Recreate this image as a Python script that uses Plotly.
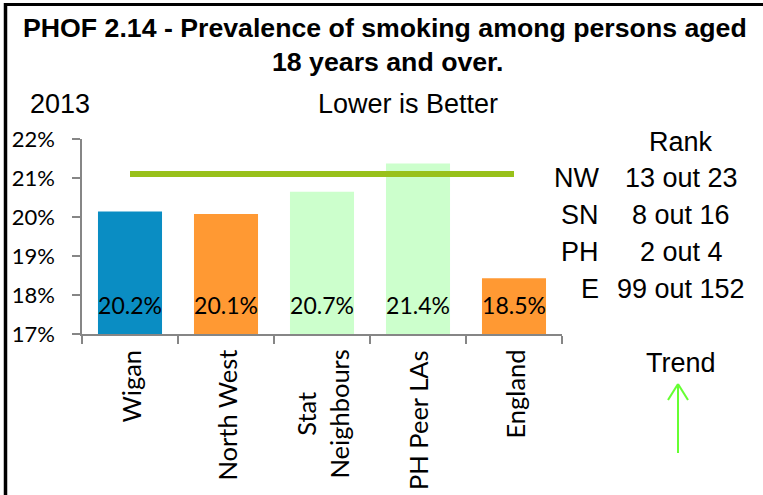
import plotly.graph_objects as go

W, H = 763, 495

categories = ["Wigan", "North West", "Stat Neighbours", "PH Peer LAs", "England"]
axis_labels = ["Wigan", "North West", "Stat<br>Neighbours", "PH Peer LAs", "England"]
values = [20.14, 20.08, 20.65, 21.37, 18.43]
value_labels = ["20.2%", "20.1%", "20.7%", "21.4%", "18.5%"]
bar_colors = ["#0A8DC3", "#FF9933", "#CCFFCC", "#CCFFCC", "#FF9933"]
benchmark = [21.1, 21.1, 21.1, 21.1, 21.1]
label_level = [17.65] * 5
y_ticks = [17, 18, 19, 20, 21, 22]
y_tick_text = ["17%", "18%", "19%", "20%", "21%", "22%"]

rank_groups = ["NW", "SN", "PH", "E"]
rank_values = ["13 out 23", "8 out 16", "2 out 4", "99 out 152"]

title_line1 = "PHOF 2.14 - Prevalence of smoking among persons aged"
title_line2 = "18 years and over."
year_text = "2013"
direction_text = "Lower is Better"


def px_x(x):
    return x / W


def px_y(y):
    return 1 - y / H


CAL = "Lato, Carlito, Calibri, sans-serif"
ARIAL = "Liberation Sans, Arial, sans-serif"
SIDE = 27

fig = go.Figure()
fig.add_trace(go.Bar(
    x=categories, y=values, marker=dict(color=bar_colors, line=dict(width=0)),
    width=0.667, hoverinfo="skip", showlegend=False,
))
fig.add_trace(go.Scatter(
    x=categories, y=benchmark, mode="lines",
    line=dict(color="#99C11A", width=6), showlegend=False, hoverinfo="skip",
))
fig.add_trace(go.Scatter(
    x=categories, y=label_level, mode="text", text=value_labels,
    textposition="middle center",
    textfont=dict(family=CAL, size=23, color="#000000"),
    showlegend=False, hoverinfo="skip",
))

fig.update_layout(
    width=W, height=H,
    margin=dict(l=0, r=0, t=0, b=0, autoexpand=False),
    paper_bgcolor="white", plot_bgcolor="white",
    bargap=0.333,
    xaxis=dict(
        domain=[px_x(82), px_x(562)],
        type="category", categoryorder="array", categoryarray=categories,
        showticklabels=False, showline=True, linecolor="#868686", linewidth=1.5,
        ticks="outside", ticklen=8, tickcolor="#868686", tickwidth=1.5,
        tickson="boundaries", showgrid=False, zeroline=False,
        range=[-0.5, 4.5], automargin=False,
    ),
    yaxis=dict(
        domain=[px_y(334), px_y(139)],
        range=[17, 22], tickvals=y_ticks, ticktext=y_tick_text,
        showline=True, linecolor="#868686", linewidth=1.5,
        ticks="outside", ticklen=8, tickcolor="#868686", tickwidth=1.5,
        showgrid=False, zeroline=False, automargin=False,
        tickfont=dict(family=CAL, size=22, color="#000000"),
        ticklabelstandoff=13,
    ),
)

ann = []
for cat, lab in zip(categories, axis_labels):
    ann.append(dict(
        x=cat, xref="x", y=px_y(348), yref="paper", text=lab, showarrow=False,
        textangle=-90, xanchor="center", yanchor="top", align="center",
        font=dict(family=CAL, size=25.5, color="#000000"),
    ))

ann.append(dict(x=px_x(385), y=px_y(28), xref="paper", yref="paper", text="<b>" + title_line1 + "</b>",
                showarrow=False, xanchor="center", yanchor="middle",
                font=dict(family=ARIAL, size=26.7, color="#000000")))
ann.append(dict(x=px_x(387), y=px_y(62), xref="paper", yref="paper", text="<b>" + title_line2 + "</b>",
                showarrow=False, xanchor="center", yanchor="middle",
                font=dict(family=ARIAL, size=26.7, color="#000000")))
ann.append(dict(x=px_x(60), y=px_y(104), xref="paper", yref="paper", text=year_text,
                showarrow=False, xanchor="center", yanchor="middle",
                font=dict(family=ARIAL, size=SIDE, color="#000000")))
ann.append(dict(x=px_x(408), y=px_y(104), xref="paper", yref="paper", text=direction_text,
                showarrow=False, xanchor="center", yanchor="middle",
                font=dict(family=ARIAL, size=SIDE, color="#000000")))
ann.append(dict(x=px_x(681), y=px_y(142), xref="paper", yref="paper", text="Rank",
                showarrow=False, xanchor="center", yanchor="middle",
                font=dict(family=ARIAL, size=SIDE, color="#000000")))
for i, (g, v) in enumerate(zip(rank_groups, rank_values)):
    yy = 178 + i * 37
    ann.append(dict(x=px_x(601), y=px_y(yy), xref="paper", yref="paper", text=g,
                    showarrow=False, xanchor="right", yanchor="middle",
                    font=dict(family=ARIAL, size=SIDE, color="#000000")))
    ann.append(dict(x=px_x(681), y=px_y(yy), xref="paper", yref="paper", text=v,
                    showarrow=False, xanchor="center", yanchor="middle",
                    font=dict(family=ARIAL, size=SIDE, color="#000000")))
ann.append(dict(x=px_x(681), y=px_y(363), xref="paper", yref="paper", text="Trend",
                showarrow=False, xanchor="center", yanchor="middle",
                font=dict(family=ARIAL, size=SIDE, color="#000000")))
fig.update_layout(annotations=ann)

green = "#66FF33"
shapes = [
    dict(type="line", xref="paper", yref="paper", x0=px_x(5.5), x1=px_x(5.5), y0=px_y(3), y1=px_y(495),
         line=dict(color="black", width=3.5), layer="above"),
    dict(type="line", xref="paper", yref="paper", x0=px_x(4), x1=px_x(763), y0=px_y(4.5), y1=px_y(4.5),
         line=dict(color="black", width=3), layer="above"),
    dict(type="line", xref="paper", yref="paper", x0=px_x(678), x1=px_x(678), y0=px_y(384), y1=px_y(453),
         line=dict(color=green, width=2)),
    dict(type="line", xref="paper", yref="paper", x0=px_x(668), x1=px_x(678), y0=px_y(400), y1=px_y(384),
         line=dict(color=green, width=2)),
    dict(type="line", xref="paper", yref="paper", x0=px_x(688), x1=px_x(678), y0=px_y(400), y1=px_y(384),
         line=dict(color=green, width=2)),
]
fig.update_layout(shapes=shapes)

fig.write_html(
    "out.html",
    config={"displayModeBar": False},
    post_script="document.body.style.margin='0';document.body.style.overflow='hidden';",
)
